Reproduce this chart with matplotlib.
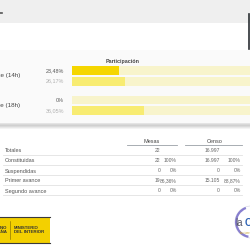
import matplotlib
matplotlib.use("Agg")
import matplotlib.pyplot as plt
import matplotlib.transforms as mtransforms
from matplotlib.patches import Rectangle, Circle, Wedge
import numpy as np

plt.rcParams['font.family'] = ['Liberation Sans', 'DejaVu Sans']

# participation chart
groups = ["Primer avance (14h)", "Segundo avance (18h)"]
current = [23.48, 0.0]
previous = [26.17, 36.05]

# summary table
rows = ["Totales", "Constituidas", "Suspendidas", "Primer avance", "Segundo avance"]
mesas = ["22", "22", "0", "19", "0"]
mesas_pct = ["", "100%", "0%", "86,36%", "0%"]
censo = ["16.997", "16.997", "0", "15.105", "0"]
censo_pct = ["", "100%", "0%", "88,87%", "0%"]


def fmt_pct(v):
    if v == 0:
        return "0%"
    return f"{v:.2f}".replace(".", ",") + "%"


fig = plt.figure(figsize=(2.5, 2.5), dpi=100)
fig.patch.set_facecolor("white")

# background axis in pixel coordinates
bg = fig.add_axes([0, 0, 1, 1])
bg.set_xlim(0, 250)
bg.set_ylim(250, 0)
bg.axis("off")

# page header bands
bg.add_patch(Rectangle((0, 0), 250, 23, color="#efefef", lw=0))
bg.add_patch(Rectangle((0, 50), 250, 74, color="#fafafa", lw=0))
for i, c in enumerate(["#e4e4e4", "#d8d8d8", "#d0d0d0", "#dadada", "#e8e8e8", "#f4f4f4"]):
    bg.add_patch(Rectangle((0, 123 + i), 250, 1, color=c, lw=0))
bg.plot([249, 249], [14, 49], color="#2b2f33", lw=1.2)
bg.plot([0, 1.5], [13, 13], color="#555555", lw=1.2)

bg.text(123, 62, "Participación", ha="center", va="center", fontsize=3.9,
        fontweight="bold", color="#444444")

# bar chart
ax = fig.add_axes([72 / 250, 1 - 117 / 250, 178 / 250, 52 / 250])
ax.patch.set_alpha(0)
ax.axis("off")
unit = 10.75
n = len(groups)
pos_cur = np.arange(n) * 2.75
pos_prev = pos_cur + 1
top = -(70.5 - 65) / unit
bottom = top + 52 / unit
ax.set_ylim(bottom, top)
ax.set_xlim(0, 178 / 2.01)

ax.barh(pos_cur, [100] * n, height=0.82, color="#f8f4cc", lw=0)
ax.barh(pos_prev, [100] * n, height=0.82, color="#f8f4cc", lw=0)
ax.barh(pos_cur, current, height=0.82, color="#f5d600", lw=0)
ax.barh(pos_prev, previous, height=0.82, color="#f8ec72", lw=0)

for i in range(n):
    ax.text(-4, pos_cur[i], fmt_pct(current[i]), ha="right", va="center",
            fontsize=3.9, color="#555555")
    ax.text(-4, pos_prev[i], fmt_pct(previous[i]), ha="right", va="center",
            fontsize=3.9, color="#b0b0b0")

blend = mtransforms.blended_transform_factory(bg.transData, ax.transData)
for i, g in enumerate(groups):
    ax.text(20, (pos_cur[i] + pos_prev[i]) / 2, g, transform=blend, ha="right",
            va="center", fontsize=4.5, color="#444444")

# summary table
bg.text(152, 141.5, "Mesas", ha="center", va="center", fontsize=4, color="#444444")
bg.text(215, 141.5, "Censo", ha="center", va="center", fontsize=4, color="#444444")
bg.plot([127, 177], [145, 145], color="#9aa0a6", lw=0.6)
bg.plot([185, 242], [145, 145], color="#9aa0a6", lw=0.6)

row_y = 151 + 10 * np.arange(len(rows))
for i, r in enumerate(rows):
    y = row_y[i]
    bg.text(5, y, r, ha="left", va="center", fontsize=4, color="#555555")
    bg.text(160.5, y, mesas[i], ha="right", va="center", fontsize=3.6, color="#666666")
    bg.text(177, y, mesas_pct[i], ha="right", va="center", fontsize=3.6, color="#666666")
    bg.text(220, y, censo[i], ha="right", va="center", fontsize=3.6, color="#666666")
    bg.text(241, y, censo_pct[i], ha="right", va="center", fontsize=3.6, color="#666666")
    bg.plot([3, 242], [y + 4, y + 4], color="#e2e2e2", lw=0.6)

# ministry logo
bg.add_patch(Rectangle((0, 217), 50, 26, color="#f3d000", lw=0))
bg.plot([0, 50], [217, 217], color="#3a3a3a", lw=0.8)
bg.plot([0, 50], [243, 243], color="#3a3a3a", lw=0.8)
bg.plot([10, 10], [221, 239], color="#7a6400", lw=0.4)
bg.text(7, 230, "GOBIERNO\nDE ESPAÑA", ha="right", va="center", fontsize=3.2,
        fontweight="bold", color="#333333", linespacing=1.1)
bg.text(14, 230, "MINISTERIO\nDEL INTERIOR", ha="left", va="center", fontsize=3.2,
        fontweight="bold", color="#333333", linespacing=1.1)

# right logo
bg.add_patch(Circle((251, 222), 16, facecolor="white", edgecolor="#d8d8e8", lw=0.5))
bg.add_patch(Wedge((251, 222), 16, 100, 250, width=2.2, color="#6b5fc4", lw=0, alpha=0.8))
bg.text(235, 223, "la", ha="left", va="center", fontsize=7, color="#555566")
bg.text(245, 223, "C", ha="left", va="center", fontsize=7, fontweight="bold", color="#2f63b5")
bg.text(240, 232.5, "elecciones", ha="left", va="center", fontsize=1.8, color="#c9a227")

fig.savefig("out.png", dpi=100)
